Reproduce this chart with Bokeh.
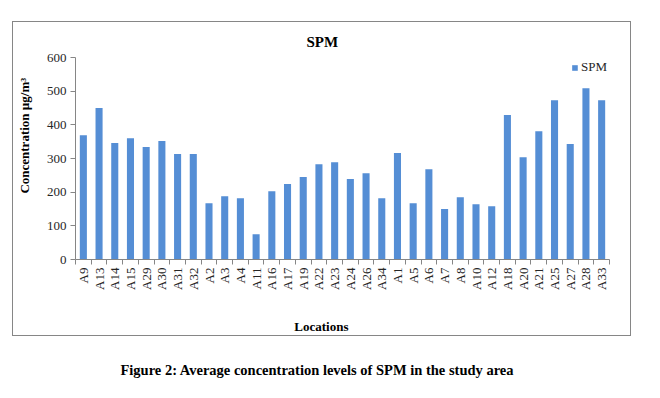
from math import pi
from bokeh.plotting import figure
from bokeh.models import (Range1d, LinearAxis, FixedTicker, ColumnDataSource, Div,
                          Legend, LegendItem)
from bokeh.layouts import column
from bokeh.embed import file_html
from bokeh.resources import INLINE

locations = ["A9", "A13", "A14", "A15", "A29", "A30", "A31", "A32", "A2", "A3", "A4", "A11",
             "A16", "A17", "A19", "A22", "A23", "A24", "A26", "A34", "A1", "A5", "A6", "A7",
             "A8", "A10", "A12", "A18", "A20", "A21", "A25", "A27", "A28", "A33"]
spm = [369, 450, 346, 360, 334, 352, 313, 313, 167, 188, 182, 75,
       203, 224, 245, 283, 289, 239, 256, 182, 316, 167, 268, 150,
       185, 164, 158, 429, 304, 381, 473, 343, 509, 473]
y_ticks = [0, 100, 200, 300, 400, 500, 600]

FONT = "Liberation Serif"
GREY = "#868686"
BLUE = "#558ED5"
OX, OY = 13, 22            # top-left of the chart canvas on the page
W, H = 619, 315
FL, FR, FT, FB = 75, 609, 57, 259   # frame edges on the page
NB = "\u00a0"

n = len(locations)
centers = [i + 0.5 for i in range(n)]
edges = list(range(n + 1))
src = ColumnDataSource(dict(x=centers, top=spm, loc=locations))

p = figure(width=W, height=H,
           x_range=Range1d(0, n), y_range=Range1d(0, 600),
           output_backend="svg", toolbar_location=None,
           x_axis_location=None, y_axis_location=None,
           min_border_left=FL - OX, min_border_right=W - (FR - OX),
           min_border_top=FT - OY, min_border_bottom=H - (FB - OY),
           margin=(OY - 1, 0, 0, OX - 1),
           styles={"border": "1px solid " + GREY})
p.outline_line_color = None
p.background_fill_color = "white"
p.border_fill_color = "white"
p.grid.visible = False

# title
p.title.text = "SPM"
p.title.align = "left"
p.title.offset = 231
p.title.standoff = 15
p.title.text_font = FONT
p.title.text_font_size = "15px"
p.title.text_font_style = "bold"
p.title.text_color = "black"

# y axis
yax = LinearAxis(ticker=FixedTicker(ticks=y_ticks))
yax.major_tick_in = 0
yax.major_tick_out = 5
yax.minor_tick_line_color = None
yax.axis_line_color = GREY
yax.major_tick_line_color = GREY
yax.major_label_text_font = FONT
yax.major_label_text_font_size = "13px"
yax.major_label_text_color = "#262626"
yax.major_label_standoff = 4
yax.axis_label = NB * 15 + "Concentration  µg/m³"
yax.axis_label_text_font = FONT
yax.axis_label_text_font_size = "13px"
yax.axis_label_text_font_style = "bold"
yax.axis_label_text_color = "black"
yax.axis_label_standoff = 12
p.add_layout(yax, "left")

# x axis: labels at centres, tick marks at category boundaries (minor ticks)
xax = LinearAxis(ticker=FixedTicker(ticks=centers, minor_ticks=edges),
                 major_label_overrides={c: l for c, l in zip(centers, locations)})
xax.axis_line_color = GREY
xax.major_tick_line_color = None
xax.major_tick_in = 0
xax.major_tick_out = 5
xax.minor_tick_line_color = GREY
xax.minor_tick_in = 0
xax.minor_tick_out = 5
xax.major_label_orientation = pi / 2
xax.major_label_text_font = FONT
xax.major_label_text_font_size = "13px"
xax.major_label_text_color = "#262626"
xax.major_label_standoff = 3
xax.axis_label = "Locations" + NB * 13
xax.axis_label_text_font = FONT
xax.axis_label_text_font_size = "13px"
xax.axis_label_text_font_style = "bold"
xax.axis_label_text_color = "black"
xax.axis_label_standoff = 26
p.add_layout(xax, "below")

r = p.vbar(x="x", top="top", width=0.45, source=src, fill_color=BLUE, line_color=None)

legend = Legend(items=[LegendItem(label="SPM", renderers=[r])], location="top_right")
legend.border_line_color = None
legend.background_fill_alpha = 0
legend.padding = 0
legend.margin = 2
legend.glyph_width = 7
legend.glyph_height = 7
legend.label_height = 14
legend.label_standoff = 3
legend.label_text_font = FONT
legend.label_text_font_size = "13px"
legend.label_text_color = "#262626"
p.add_layout(legend)

caption = Div(text="Figure 2: Average concentration levels of SPM in the study area",
              width=610, margin=(24, 0, 0, 12),
              styles={"font-family": FONT, "font-weight": "bold", "font-size": "14.5px",
                      "color": "black", "text-align": "center"})

layout = column(p, caption)
open("out.html", "w").write(file_html(layout, INLINE))
